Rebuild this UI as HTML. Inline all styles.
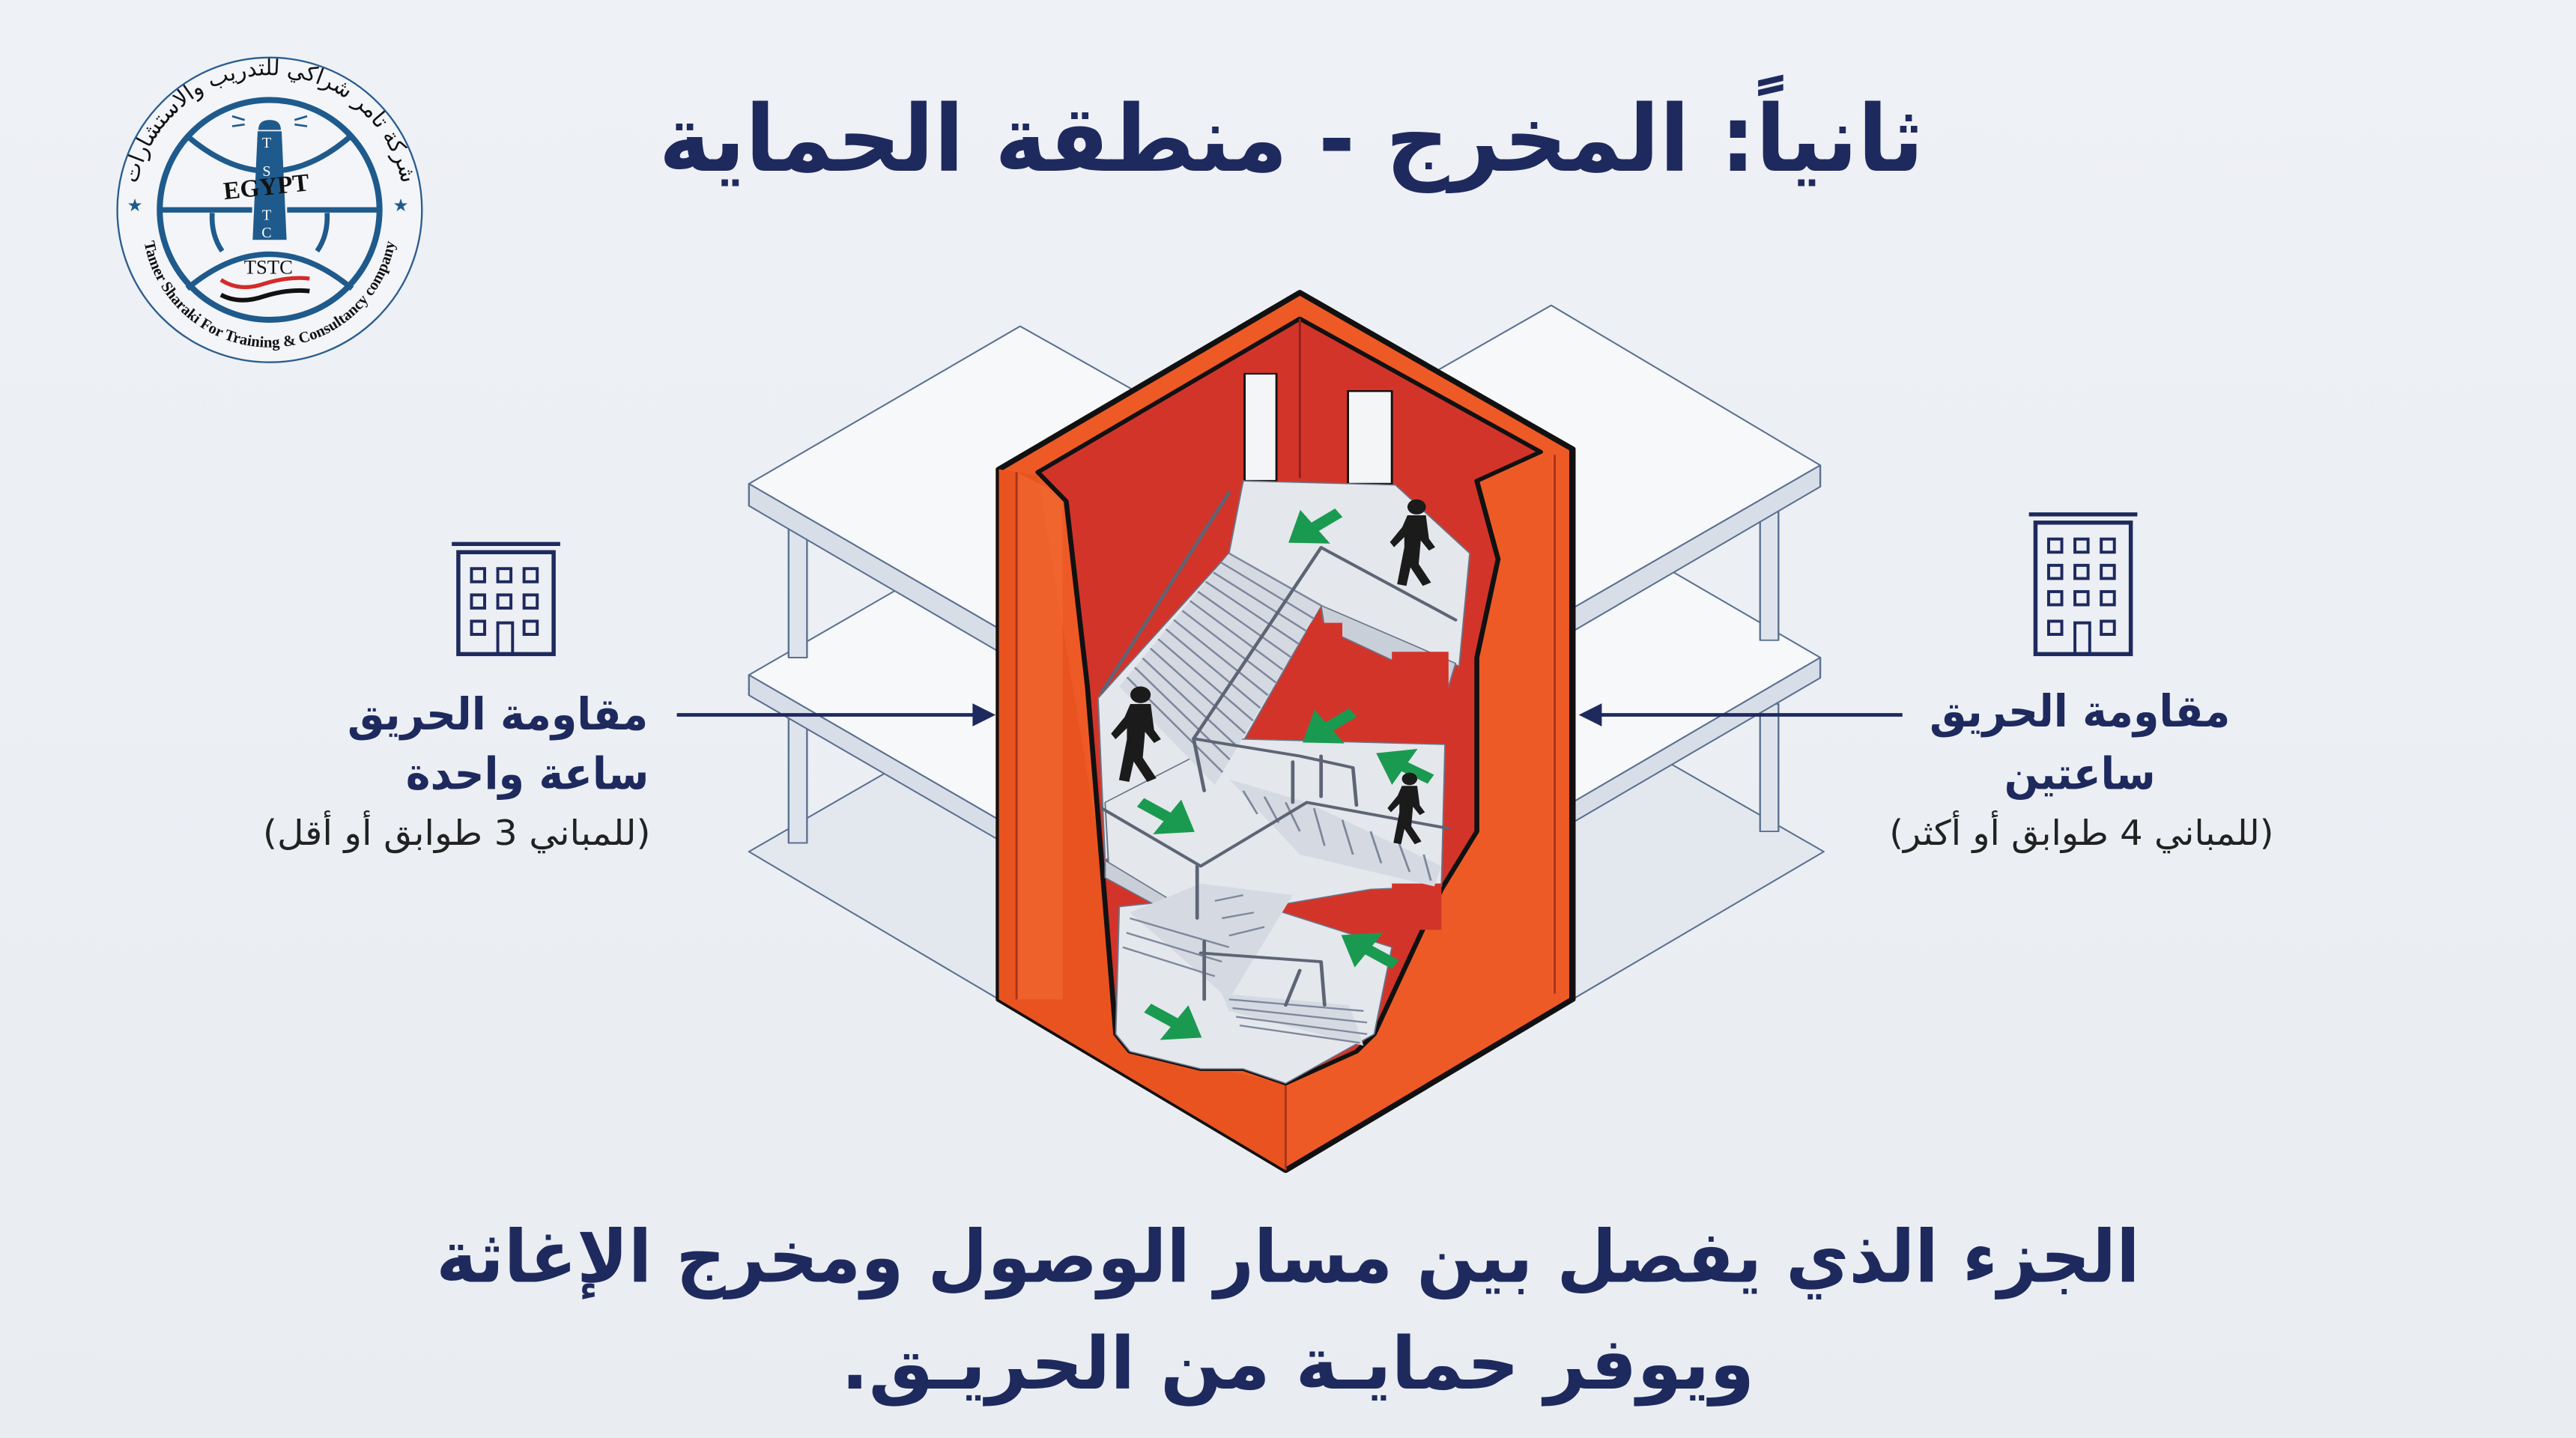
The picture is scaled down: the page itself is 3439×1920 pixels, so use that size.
<!DOCTYPE html>
<html><head><meta charset="utf-8"><style>
html,body{margin:0;padding:0;background:#eef1f5;}
svg{display:block}
</style></head><body>
<svg width="3439" height="1920" viewBox="0 0 1568 875" preserveAspectRatio="none" xmlns="http://www.w3.org/2000/svg">
<defs>
<linearGradient id="bg" x1="0" y1="0" x2="0" y2="1"><stop offset="0" stop-color="#eef1f5"/><stop offset="1" stop-color="#e9edf2"/></linearGradient>
<marker id="ga" markerWidth="4" markerHeight="4" refX="1.5" refY="2" orient="auto" markerUnits="strokeWidth"><path d="M0,0 L2.6,2 L0,4 z" fill="#1a9a50"/></marker>
<g id="person"><circle cx="0" cy="-38" r="9" fill="#1b1b1b"/><path d="M-9,-28 L9,-28 L12,0 L18,10 L12,14 L4,2 L2,30 L14,52 L6,56 L-6,34 L-10,56 L-19,54 L-12,10 L-12,-2 L-22,10 L-26,4 L-14,-14 Z" fill="#1b1b1b"/></g>
<path id="topArc" d="M120,660 A540,540 0 0 1 1200,660"/>
<path id="botArc" d="M150,700 A510,510 0 0 0 1170,700"/>
</defs>
<rect width="1568" height="875" fill="url(#bg)"/>

<!-- Title -->
<text x="786" y="104" text-anchor="middle" font-family="DejaVu Sans, sans-serif" font-weight="bold" font-size="56" fill="#1e2a5e" direction="rtl" textLength="770" lengthAdjust="spacingAndGlyphs">ثانياً: المخرج - منطقة الحماية</text>

<!-- Logo -->
<g transform="translate(63.8,27.4) scale(0.152)">
<circle cx="660" cy="660" r="610" fill="#f3f5f8" stroke="#2b5d8f" stroke-width="7"/>
<circle cx="660" cy="660" r="440" fill="none" stroke="#1f5a8c" stroke-width="24"/>
<line x1="220" y1="660" x2="590" y2="660" stroke="#1f5a8c" stroke-width="22"/>
<line x1="730" y1="660" x2="1100" y2="660" stroke="#1f5a8c" stroke-width="22"/>
<path d="M325,360 Q660,650 990,360" fill="none" stroke="#1f5a8c" stroke-width="22"/>
<path d="M330,975 Q660,700 990,975" fill="none" stroke="#1f5a8c" stroke-width="22"/>
<path d="M430,672 Q425,760 470,825" fill="none" stroke="#1f5a8c" stroke-width="20"/>
<path d="M890,672 Q895,760 850,825" fill="none" stroke="#1f5a8c" stroke-width="20"/>
<path d="M615,340 Q615,300 660,300 Q705,300 705,340 Z" fill="#1f5a8c"/>
<polygon points="612,345 708,345 728,780 592,780" fill="#1f5a8c"/>
<g font-family="Liberation Serif, serif" fill="#fff" font-size="60" text-anchor="middle"><text x="648" y="410">T</text><text x="648" y="525">S</text><text x="648" y="700">T</text><text x="648" y="770">C</text></g>
<g stroke="#1f5a8c" stroke-width="8"><line x1="510" y1="285" x2="560" y2="300"/><line x1="510" y1="325" x2="560" y2="318"/><line x1="760" y1="300" x2="810" y2="285"/><line x1="760" y1="318" x2="810" y2="325"/></g>
<text x="650" y="600" text-anchor="middle" font-family="Liberation Serif, serif" font-weight="bold" font-size="100" fill="#111" transform="rotate(-6 650 600)">EGYPT</text>
<text x="655" y="915" text-anchor="middle" font-family="Liberation Serif, serif" font-size="80" fill="#111">TSTC</text>
<path d="M465,940 Q540,990 640,955 Q740,925 820,935" fill="none" stroke="#d42a2a" stroke-width="16"/>
<path d="M465,1000 Q540,1040 640,1005 Q740,975 820,985" fill="none" stroke="#111" stroke-width="18"/>
<text font-family="DejaVu Sans, sans-serif" font-size="88" fill="#111"><textPath href="#topArc" startOffset="50%" text-anchor="middle">شركة تامر شراكي للتدريب والاستشارات</textPath></text>
<text font-family="Liberation Serif, serif" font-weight="bold" font-size="62" fill="#111"><textPath href="#botArc" startOffset="50%" text-anchor="middle">Tamer Sharaki For Training &amp; Consultancy company</textPath></text>
<text x="120" y="665" font-size="70" fill="#1f5a8c" text-anchor="middle">★</text>
<text x="1185" y="665" font-size="70" fill="#1f5a8c" text-anchor="middle">★</text>
</g>

<!-- Illustration, zoom coordinate frame -->
<g transform="translate(446.4,171) scale(0.431,0.3525)" stroke-linejoin="round">
 <g stroke="#5b7090" stroke-width="2.5">
  <polygon points="22,985 405,715 800,985 375,1240" fill="#e3e8ef"/>
  <rect x="78" y="740" width="26" height="230" fill="#dfe4ec"/>
  <polygon points="22,680 405,410 800,680 375,930" fill="#f7f8fa"/>
  <polygon points="22,680 375,930 375,965 22,715" fill="#d8dee8"/>
  <rect x="78" y="400" width="26" height="250" fill="#dfe4ec"/>
  <polygon points="22,350 405,78 800,350 375,600" fill="#f7f8fa"/>
  <polygon points="22,350 375,600 375,640 22,388" fill="#d8dee8"/>
 </g>
 <g stroke="#5b7090" stroke-width="2.5">
  <polygon points="1540,985 1155,715 760,985 1185,1240" fill="#e3e8ef"/>
  <rect x="1450" y="730" width="26" height="220" fill="#dfe4ec"/>
  <polygon points="1535,650 1155,380 760,650 1185,900" fill="#f7f8fa"/>
  <polygon points="1535,650 1185,900 1185,935 1535,685" fill="#d8dee8"/>
  <rect x="1450" y="390" width="26" height="230" fill="#dfe4ec"/>
  <polygon points="1535,318 1155,42 760,318 1185,565" fill="#f7f8fa"/>
  <polygon points="1535,318 1185,565 1185,605 1535,355" fill="#d8dee8"/>
 </g>
 <polygon points="800,20 1185,290 1185,1240 780,1535 375,1240 375,325" fill="#ee5a26" stroke="#111" stroke-width="9"/>
 <polygon points="780,1385 780,1535 375,1240 375,325 430,335 520,1000 560,1330" fill="#e9531f"/>
 <polygon points="400,330 465,370 465,1240 400,1240" fill="#f26a33" opacity=".6"/>
 <line x1="780" y1="1385" x2="780" y2="1535" stroke="#a8331a" stroke-width="3"/>
 <line x1="1160" y1="300" x2="1160" y2="1230" stroke="#a8331a" stroke-width="3"/>
 <line x1="400" y1="330" x2="400" y2="1240" stroke="#a8331a" stroke-width="3"/>
 <polygon points="430,330 800,65 1140,295 1050,345 1080,480 1050,650 1050,950 1000,1050 905,1300 880,1330 780,1385 720,1360 660,1360 560,1330 540,1300 520,1000 500,700 470,380" fill="#d3342a" stroke="#111" stroke-width="7"/>
 <line x1="800" y1="65" x2="800" y2="340" stroke="#8e1f18" stroke-width="3"/>
 <rect x="722" y="160" width="45" height="185" fill="#f4f5f7" stroke="#111" stroke-width="3"/>
 <rect x="868" y="190" width="62" height="160" fill="#f4f5f7" stroke="#111" stroke-width="3"/>
 <g fill="#e4e7ec" stroke="#6a7487" stroke-width="2">
  <polygon points="720,345 935,352 1040,470 1025,665 830,560 680,880 525,1000 515,720 700,470"/>
  <polygon points="830,560 1020,660 1010,700 835,600"  fill="#c9cfd8"/>
  <polygon points="525,900 700,790 1005,800 1000,1045 900,1050 660,1100 530,1010"/>
  <polygon points="545,1080 700,1060 930,1150 905,1300 780,1385 720,1360 660,1360 560,1330 540,1300"/>
  <polygon points="525,1000 660,1100 660,1120 525,1030" fill="#c9cfd8"/>
 </g>
 <rect x="930" y="640" width="80" height="120" fill="#d3342a"/>
 <rect x="930" y="1040" width="70" height="80" fill="#d3342a"/>
 <rect x="810" y="590" width="50" height="120" fill="#d3342a"/>
 <polygon points="700,470 830,560 680,870 545,700" fill="#d5dae2"/>
 <g stroke="#7d889c" stroke-width="3">
  <line x1="700" y1="470" x2="830" y2="560"/><line x1="689" y1="486" x2="819" y2="582"/><line x1="678" y1="503" x2="809" y2="604"/><line x1="667" y1="519" x2="798" y2="626"/><line x1="656" y1="536" x2="787" y2="649"/><line x1="645" y1="552" x2="776" y2="671"/><line x1="634" y1="569" x2="766" y2="693"/><line x1="622" y1="585" x2="755" y2="715"/><line x1="611" y1="601" x2="744" y2="737"/><line x1="600" y1="618" x2="734" y2="759"/><line x1="589" y1="634" x2="723" y2="781"/><line x1="578" y1="651" x2="712" y2="804"/><line x1="567" y1="667" x2="701" y2="826"/><line x1="556" y1="684" x2="691" y2="848"/>
 </g>
 <polygon points="700,860 810,900 1000,1010 990,1045 800,990" fill="#d5dae2"/>
 <g stroke="#7d889c" stroke-width="3">
  <line x1="720" y1="880" x2="740" y2="920"/><line x1="750" y1="890" x2="770" y2="935"/><line x1="780" y1="900" x2="800" y2="950"/><line x1="820" y1="910" x2="835" y2="975"/><line x1="860" y1="930" x2="875" y2="990"/><line x1="900" y1="950" x2="915" y2="1005"/><line x1="940" y1="970" x2="955" y2="1020"/><line x1="975" y1="990" x2="985" y2="1035"/>
 </g>
 <polygon points="660,1040 790,1060 700,1240 560,1090" fill="#d5dae2"/>
 <polygon points="690,1230 870,1250 890,1320 700,1260" fill="#d5dae2"/>
 <g stroke="#7d889c" stroke-width="3">
  <line x1="560" y1="1100" x2="700" y2="1150"/><line x1="555" y1="1125" x2="690" y2="1175"/><line x1="550" y1="1150" x2="680" y2="1200"/>
  <line x1="700" y1="1240" x2="890" y2="1260"/><line x1="705" y1="1255" x2="895" y2="1280"/><line x1="710" y1="1270" x2="895" y2="1300"/><line x1="715" y1="1285" x2="885" y2="1315"/>
  <line x1="680" y1="1070" x2="720" y2="1060"/><line x1="690" y1="1100" x2="735" y2="1090"/><line x1="700" y1="1130" x2="750" y2="1115"/>
 </g>
 <g fill="none" stroke="#5d6575" stroke-width="5" stroke-linecap="round">
  <polyline points="1020,585 830,460 650,790 665,880"/>
  <polyline points="520,910 660,1010 810,900 1010,945"/>
  <polyline points="650,790 800,820 875,840 880,905"/>
  <line x1="830" y1="820" x2="830" y2="890"/>
  <line x1="790" y1="830" x2="790" y2="900"/>
  <line x1="655" y1="1010" x2="655" y2="1100"/>
  <polyline points="660,1160 830,1175 835,1250"/>
  <line x1="800" y1="1190" x2="780" y2="1250"/>
  <line x1="665" y1="1140" x2="665" y2="1240"/>
  <polyline points="520,710 700,365"/>
 </g>
 <g stroke="#1a9a50" stroke-width="18" marker-end="url(#ga)">
  <line x1="855" y1="400" x2="800" y2="440"/>
  <line x1="875" y1="745" x2="820" y2="785"/>
  <line x1="985" y1="860" x2="925" y2="825"/>
  <line x1="575" y1="900" x2="635" y2="940"/>
  <line x1="935" y1="1180" x2="875" y2="1140"/>
  <line x1="585" y1="1255" x2="645" y2="1295"/>
 </g>
 <use href="#person" transform="translate(965,445) scale(1.45)"/>
 <use href="#person" transform="translate(575,775) scale(1.6)"/>
 <use href="#person" transform="translate(955,905) scale(1.2)"/>
</g>

<g stroke="#1e2a5e" stroke-width="2.2">
 <line x1="412" y1="435" x2="596" y2="435"/>
 <line x1="972" y1="435" x2="1158" y2="435"/>
</g>
<polygon points="606,435 592,428 592,442" fill="#1e2a5e"/>
<polygon points="961,435 975,428 975,442" fill="#1e2a5e"/>

<g fill="none" stroke="#1e2a5e" stroke-width="2.5">
 <rect x="279" y="336" width="58" height="62"/><line x1="275" y1="331" x2="341" y2="331"/>
 <rect x="1239" y="318" width="58" height="80"/><line x1="1235" y1="313" x2="1301" y2="313"/>
</g>
<g fill="none" stroke="#1e2a5e" stroke-width="1.8">
 <rect x="287" y="346" width="8" height="8"/><rect x="303" y="346" width="8" height="8"/><rect x="319" y="346" width="8" height="8"/>
 <rect x="287" y="362" width="8" height="8"/><rect x="303" y="362" width="8" height="8"/><rect x="319" y="362" width="8" height="8"/>
 <rect x="287" y="378" width="8" height="8"/><rect x="319" y="378" width="8" height="8"/><rect x="303" y="379" width="9" height="19"/>
 <rect x="1247" y="328" width="8" height="8"/><rect x="1263" y="328" width="8" height="8"/><rect x="1279" y="328" width="8" height="8"/>
 <rect x="1247" y="344" width="8" height="8"/><rect x="1263" y="344" width="8" height="8"/><rect x="1279" y="344" width="8" height="8"/>
 <rect x="1247" y="360" width="8" height="8"/><rect x="1263" y="360" width="8" height="8"/><rect x="1279" y="360" width="8" height="8"/>
 <rect x="1247" y="378" width="8" height="8"/><rect x="1279" y="378" width="8" height="8"/><rect x="1263" y="379" width="9" height="19"/>
</g>

<g font-family="DejaVu Sans, sans-serif" fill="#1e2a5e" direction="rtl">
 <text x="303" y="444" text-anchor="middle" font-weight="bold" font-size="27" textLength="183" lengthAdjust="spacingAndGlyphs">مقاومة الحريق</text>
 <text x="321" y="480" text-anchor="middle" font-weight="bold" font-size="27" textLength="148" lengthAdjust="spacingAndGlyphs">ساعة واحدة</text>
 <text x="278" y="514" text-anchor="middle" font-size="21" fill="#222" textLength="236" lengthAdjust="spacingAndGlyphs">(للمباني 3 طوابق أو أقل)</text>
 <text x="1266" y="442" text-anchor="middle" font-weight="bold" font-size="27" textLength="183" lengthAdjust="spacingAndGlyphs">مقاومة الحريق</text>
 <text x="1266" y="480" text-anchor="middle" font-weight="bold" font-size="27" textLength="92" lengthAdjust="spacingAndGlyphs">ساعتين</text>
 <text x="1267" y="514" text-anchor="middle" font-size="21" fill="#222" textLength="234" lengthAdjust="spacingAndGlyphs">(للمباني 4 طوابق أو أكثر)</text>
</g>

<g font-family="DejaVu Sans, sans-serif" font-weight="bold" fill="#1e2a5e" direction="rtl" text-anchor="middle">
 <text x="784" y="780" font-size="44" textLength="1037" lengthAdjust="spacingAndGlyphs">الجزء الذي يفصل بين مسار الوصول ومخرج الإغاثة</text>
 <text x="790" y="845" font-size="44" textLength="556" lengthAdjust="spacingAndGlyphs">ويوفر حمايـة من الحريـق.</text>
</g>
</svg>
</body></html>
